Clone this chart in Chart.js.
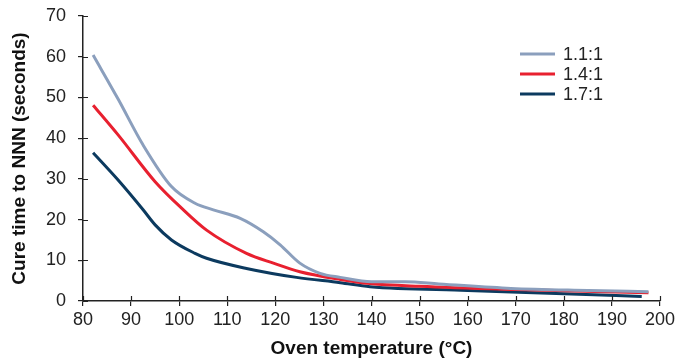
<!DOCTYPE html>
<html>
<head>
<meta charset="utf-8">
<script src="https://cdn.jsdelivr.net/npm/chart.js@4"></script>
<style>
  html, body { margin: 0; padding: 0; background: #fff; }
  #wrap { width: 687px; height: 360px; }
</style>
</head>
<body>
<div id="wrap"><canvas id="cureChart" width="687" height="360"></canvas></div>
<script>
// values
const seriesNames = ["1.1:1", "1.4:1", "1.7:1"];
const seriesColors = ["#8b9fbd", "#e8202f", "#0c3a5f"];

const temps11 = [82.1, 87.3, 92.5, 98.4, 103.3, 107.1, 112.7, 117.5, 121, 125.1, 129.3, 133.5, 140, 147, 154, 169, 185, 197.6];
const cure11  = [60.4, 49.6, 38.3, 28.1, 24.0, 22.4, 20.3, 17.0, 13.8, 9.3, 6.8, 5.8, 4.7, 4.7, 4.2, 3.1, 2.6, 2.3];

const temps14 = [82.1, 87.3, 95, 100.5, 105.7, 114, 119.6, 125.1, 133.5, 139.7, 150, 170, 197.6];
const cure14  = [48.1, 40.8, 29.3, 22.8, 17.4, 11.7, 9.3, 7.2, 5.3, 4.3, 3.6, 2.8, 2.0];

const temps17 = [82.1, 87.3, 92.5, 95, 98.4, 103.3, 105.7, 114, 124.4, 133.5, 139.7, 160, 180, 196.2];
const cure17  = [36.4, 29.7, 22.4, 18.7, 15.0, 11.7, 10.5, 8.0, 5.8, 4.5, 3.5, 2.6, 1.8, 1.1];

const xTicks = [80, 90, 100, 110, 120, 130, 140, 150, 160, 170, 180, 190, 200];
const yTicks = [0, 10, 20, 30, 40, 50, 60, 70];

const FONT = "'Liberation Sans', Arial, Helvetica, sans-serif";

function toPoints(xs, ys) {
  return xs.map((x, i) => ({ x: x, y: ys[i] }));
}

// inner half of the crossing tick marks
const innerTicks = {
  id: "innerTicks",
  afterDatasetsDraw(chart) {
    const ctx = chart.ctx;
    const xs = chart.scales.x, ys = chart.scales.y;
    ctx.save();
    ctx.strokeStyle = "#222";
    ctx.lineWidth = 1.2;
    ctx.beginPath();
    xTicks.forEach(v => {
      const px = Math.round(xs.getPixelForValue(v)) + 0.5;
      ctx.moveTo(px, ys.bottom);
      ctx.lineTo(px, ys.bottom - 5);
    });
    yTicks.forEach(v => {
      const py = Math.round(ys.getPixelForValue(v)) + 0.5;
      ctx.moveTo(xs.left, py);
      ctx.lineTo(xs.left + 5, py);
    });
    ctx.stroke();
    ctx.restore();
  }
};

// legend drawn inside the plot, upper right
const innerLegend = {
  id: "innerLegend",
  afterDraw(chart) {
    const ctx = chart.ctx;
    ctx.save();
    ctx.font = "18px " + FONT;
    ctx.textBaseline = "middle";
    ctx.textAlign = "left";
    const rows = [54, 74, 94];
    chart.data.datasets.forEach((ds, i) => {
      ctx.strokeStyle = ds.borderColor;
      ctx.lineWidth = 3;
      ctx.beginPath();
      ctx.moveTo(520, rows[i]);
      ctx.lineTo(555, rows[i]);
      ctx.stroke();
      ctx.fillStyle = "#222";
      ctx.fillText(ds.label, 563, rows[i] + 1);
    });
    ctx.restore();
  }
};

const ctx = document.getElementById("cureChart").getContext("2d");

new Chart(ctx, {
  type: "line",
  data: {
    datasets: [
      { label: seriesNames[0], data: toPoints(temps11, cure11), borderColor: seriesColors[0] },
      { label: seriesNames[1], data: toPoints(temps14, cure14), borderColor: seriesColors[1] },
      { label: seriesNames[2], data: toPoints(temps17, cure17), borderColor: seriesColors[2] }
    ]
  },
  options: {
    responsive: false,
    animation: false,
    layout: { padding: { top: 16, right: 27, left: 0, bottom: 0 } },
    elements: {
      line: { borderWidth: 3, cubicInterpolationMode: "monotone", fill: false },
      point: { radius: 0 }
    },
    plugins: {
      legend: { display: false },
      tooltip: { enabled: false }
    },
    scales: {
      x: {
        type: "linear",
        min: 80,
        max: 200,
        afterBuildTicks: s => { s.ticks = xTicks.map(v => ({ value: v })); },
        afterFit: s => { s.height = 59; s.paddingLeft = 0; s.paddingRight = 0; },
        grid: { drawOnChartArea: false, tickLength: 5, color: "#222", lineWidth: 1.2 },
        border: { color: "#222", width: 1.5 },
        ticks: { color: "#222", font: { family: FONT, size: 18 }, padding: 3, maxRotation: 0 },
        title: {
          display: true,
          text: "Oven temperature (°C)",
          color: "#111",
          font: { family: FONT, size: 19, weight: "bold", lineHeight: 1 },
          padding: { top: 0, bottom: 2 }
        }
      },
      y: {
        min: 0,
        max: 70,
        afterBuildTicks: s => { s.ticks = yTicks.map(v => ({ value: v })); },
        afterFit: s => { s.width = 83; s.paddingTop = 0; s.paddingBottom = 0; },
        grid: { drawOnChartArea: false, tickLength: 5, color: "#222", lineWidth: 1.2 },
        border: { color: "#222", width: 1.5 },
        ticks: { color: "#222", font: { family: FONT, size: 18 }, padding: 12 },
        title: {
          display: true,
          text: "Cure time to NNN (seconds)",
          color: "#111",
          font: { family: FONT, size: 19, weight: "bold", lineHeight: 1 },
          padding: { top: 10, bottom: 0 }
        }
      }
    }
  },
  plugins: [innerTicks, innerLegend]
});
</script>
</body>
</html>
